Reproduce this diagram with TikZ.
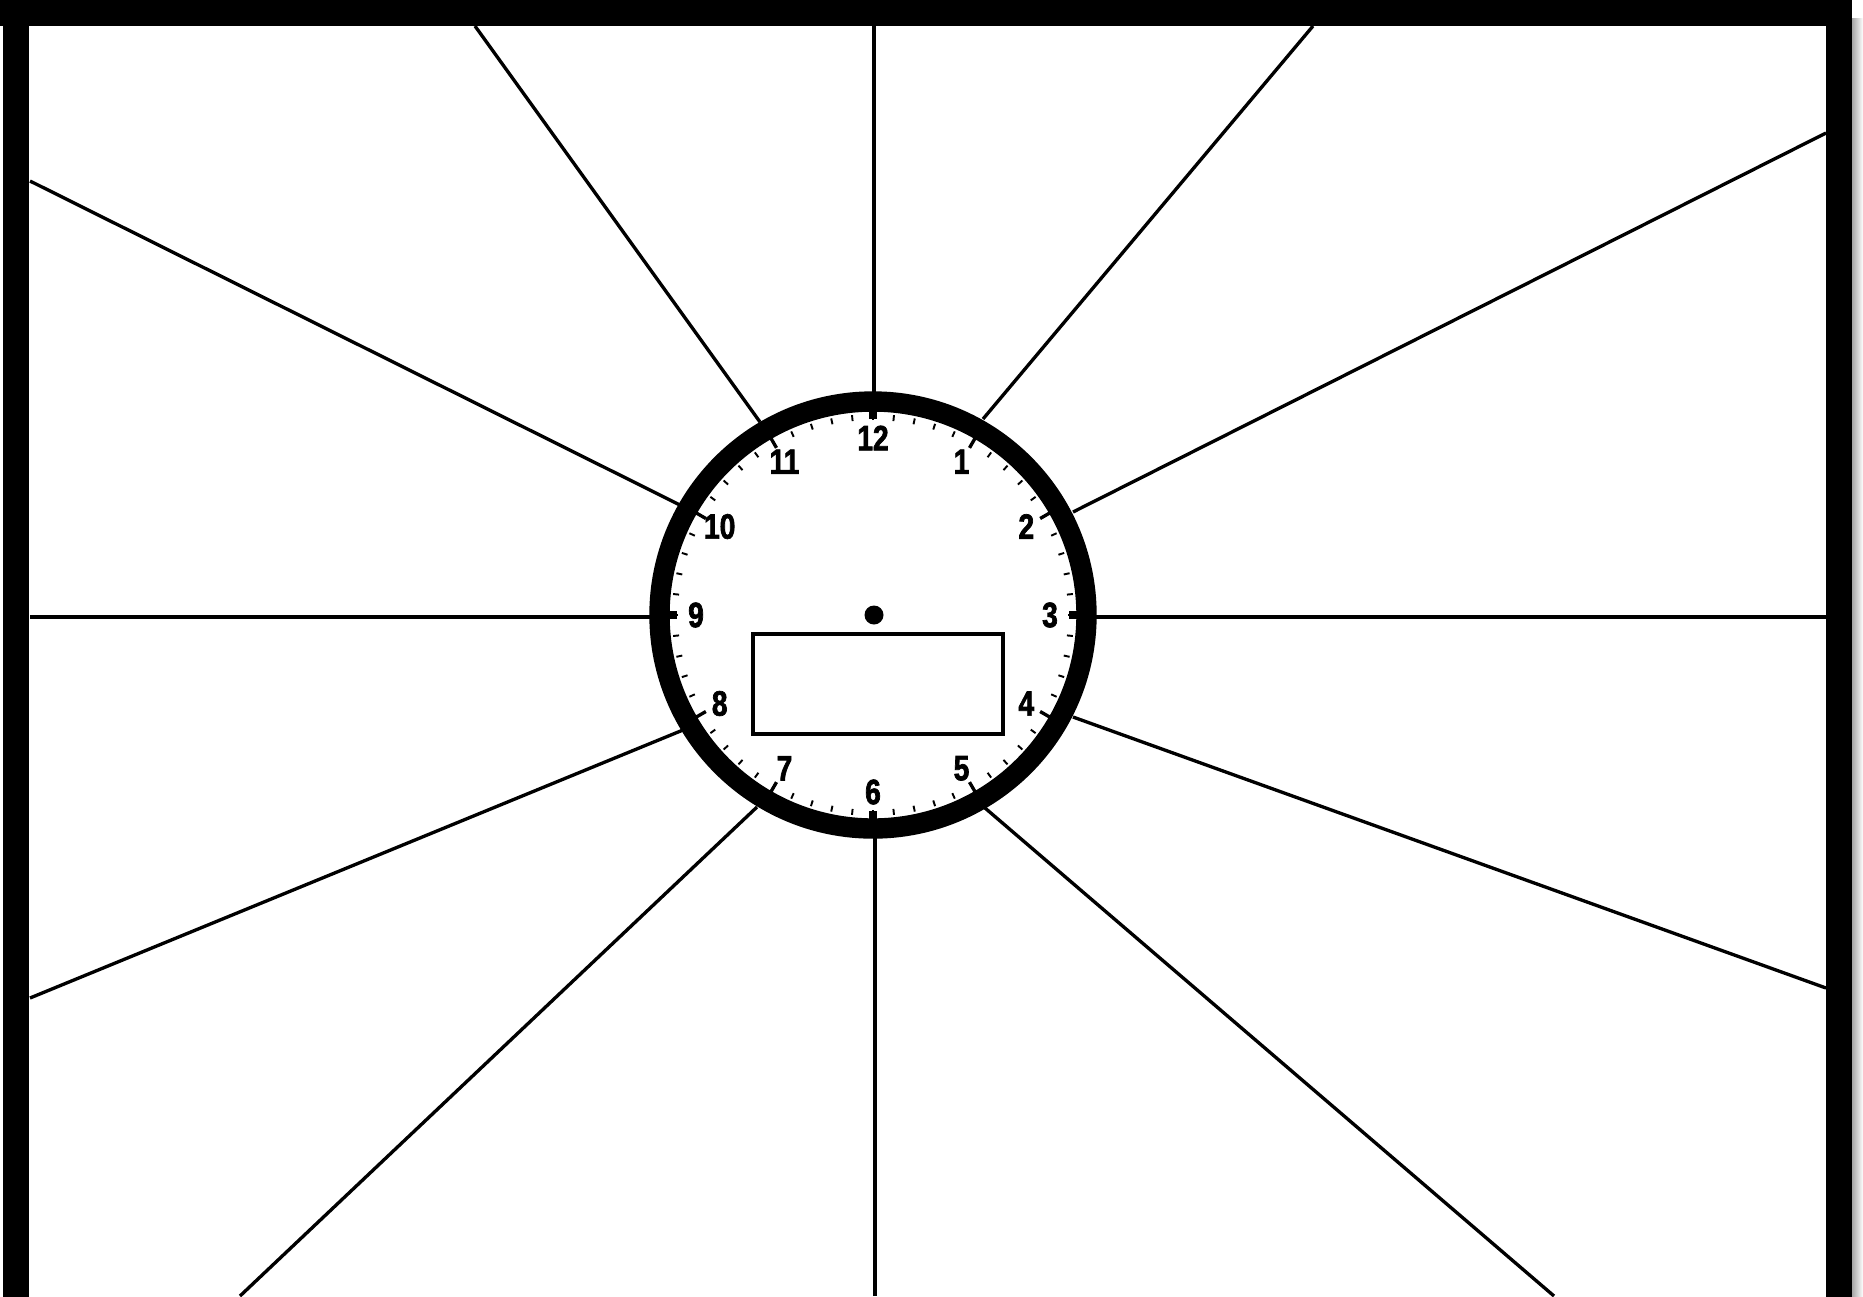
\documentclass[tikz,border=0pt]{standalone}
\usepackage{fontspec}
\usepackage{xcolor}
\usetikzlibrary{calc}
\newfontfamily\clockfont[FakeStretch=0.8, BoldFeatures={FakeBold=2}]{Liberation Sans}

\begin{document}
\begin{tikzpicture}[
  x=0.01cm, y=-0.01cm,
  framerule/.style={draw=black, line width=7.4pt},
  spokeline/.style={draw=black, line width=0.95pt},
  ringline/.style={draw=black, line width=5.8pt},
  minutetick/.style={draw=black, line width=0.55pt},
  hourtick/.style={draw=black, line width=0.95pt},
  quartertick/.style={draw=black, line width=2.3pt},
  hourlabel/.style={inner sep=0pt, font=\clockfont\fontsize{10}{11}\selectfont\bfseries},
  readout/.style={draw=black, line width=1.25pt, fill=white},
]

\useasboundingbox (0,0) rectangle (1863,1296);
\clip (0,0) rectangle (1863,1296);

% clock centre
\coordinate (c) at (873,615);

% Spokes from the frame to the clock rim
\foreach \n/\ox/\oy/\ix/\iy in {
  12/874/26/874/400, 1/1313/26/983/419, 2/1826/133/1073/512,
  3/1826/617/1090/617, 4/1826/988/1073/717, 5/1554/1296/985/808,
  6/875/1296/875/830, 7/240/1296/757/807, 8/30/998/683/730,
  9/30/617/655/617, 10/30/181/680/505, 11/475/26/760/422}{
  \coordinate (o\n) at (\ox,\oy);
  \coordinate (i\n) at (\ix,\iy);
  \draw[spokeline] (o\n) -- (i\n);
}

% Frame with shadow on the right
\shade[left color=gray!70, right color=white] (1852,18) rectangle (1863,1296);
\draw[framerule] (16,-10) -- (16,1320);
\draw[framerule] (1839,-10) -- (1839,1320);
\draw[framerule] (0,13) -- (1863-11,13);

% Clock face
\fill[white] (c) circle (213.5);
\draw[ringline] (c) circle (213.5);

% minute ticks
\foreach \m in {0,...,59}
  \draw[minutetick] ([shift={(-90+6*\m:195)}]c) -- ([shift={(-90+6*\m:201)}]c);

% hour ticks
\foreach \h in {1,2,4,5,7,8,10,11}
  \draw[hourtick] ([shift={(-90+30*\h:193)}]c) -- ([shift={(-90+30*\h:206)}]c);
\foreach \h in {3,6,9,12}
  \draw[quartertick] ([shift={(-90+30*\h:196)}]c) -- ([shift={(-90+30*\h:206)}]c);

% hour numbers
\foreach \h in {1,...,12}
  \node[hourlabel] (h\h) at ([shift={(-90+30*\h:177)}]c) {\h};

% centre dot and readout box
\fill[black] (874,615) circle (9.5);
\draw[readout] (753,634) rectangle (1003,734);

\end{tikzpicture}
\end{document}
